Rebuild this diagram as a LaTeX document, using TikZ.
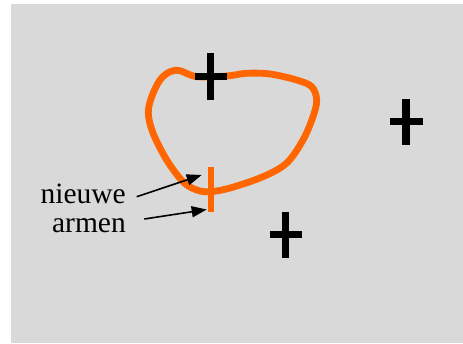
\documentclass[tikz,border=0pt]{standalone}
\usepackage{fontspec}
\setmainfont{Liberation Serif}
\usetikzlibrary{arrows.meta}
\definecolor{bg}{HTML}{D9D9D9}
\definecolor{orng}{HTML}{FF6600}
\tikzset{
  plusbar/.style={line width=7.3pt, black, line cap=butt},
  loopline/.style={line width=6.8pt, orng},
  lbl/.style={font=\fontsize{29.5}{30}\selectfont, inner sep=0pt, anchor=base east},
  pointer/.style={line width=1.6pt, black, -{Triangle[length=15pt,width=11pt]}}
}
\begin{document}
\begin{tikzpicture}[x=1pt,y=-1pt]
\useasboundingbox (0,0) rectangle (463,343);
\fill[bg] (11,4) rectangle (463,343);
% orange loop
\draw[loopline] plot[smooth cycle, tension=0.55] coordinates {
 (196.7,76.7) (180,70.7) (170,71.7) (160,80) (151.7,96.7) (148.3,113)
 (153,133) (166.7,160) (183,181.7) (196.7,190) (210,191.7) (230,188)
 (263,176.7) (286.7,163) (303,140) (313,116.7) (316.7,100) (311.7,86.7)
 (296.7,80) (270,74) (246.7,73.3) (226.7,76)};
% orange tick
\draw[orng, line width=5.5pt] (211,167) -- (211,212);
% pluses
\draw[plusbar] (210.7,53) -- (210.7,100);
\draw[plusbar] (195,76.7) -- (226.7,76.7);
\draw[plusbar] (406,99) -- (406,145);
\draw[plusbar] (390,121.7) -- (422.7,121.7);
\draw[plusbar] (285.7,211.7) -- (285.7,257.7);
\draw[plusbar] (270,234.3) -- (302.3,234.3);
% labels
\node[lbl] (nieuwe) at (126,203) {nieuwe};
\node[lbl] (armen) at (126,232) {armen};
\coordinate (s1) at (136.7,196.7);
\coordinate (t1) at (201.7,175);
\coordinate (s2) at (144.3,219);
\coordinate (t2) at (206.7,209.5);
\draw[pointer] (s1) -- (t1);
\draw[pointer] (s2) -- (t2);
\end{tikzpicture}
\end{document}
